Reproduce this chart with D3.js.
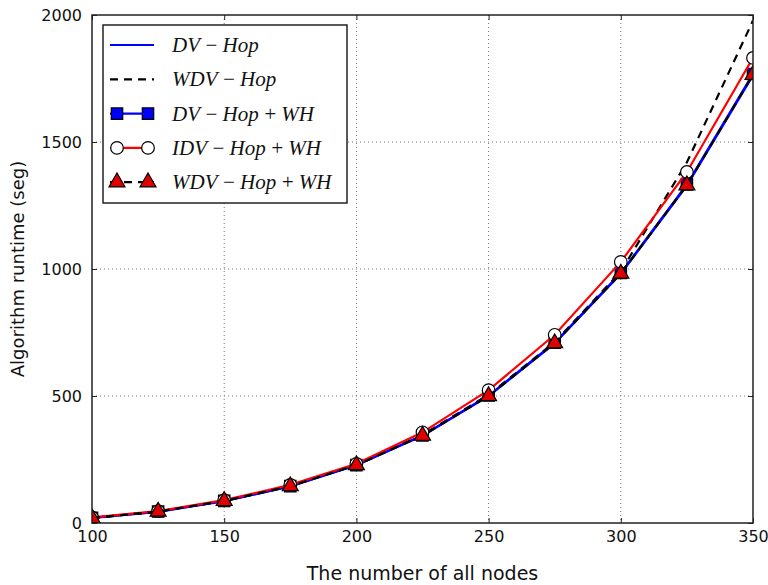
<!DOCTYPE html>
<html>
<head>
<meta charset="utf-8">
<script src="https://cdn.jsdelivr.net/npm/d3@7"></script>
<style>
  html, body { margin: 0; padding: 0; background: #fff; }
  svg { display: block; }
</style>
</head>
<body>
<svg id="chart" width="768" height="585"></svg>
<script>
// Number of nodes on the x axis
const nodes = [100, 125, 150, 175, 200, 225, 250, 275, 300, 325, 350];

// Runtime (seg) per algorithm
const dvHop      = [20, 44, 86, 144, 227, 343, 500, 707, 981, 1328, 1762];
const wdvHop     = [20, 45, 87, 146, 229, 347, 505, 712, 990, 1420, 1978];
const dvHopWH    = [20, 45, 87, 145, 228, 345, 502, 710, 984, 1333, 1768];
const idvHopWH   = [22, 47, 90, 150, 233, 357, 523, 741, 1028, 1382, 1831];
const wdvHopWH   = [20, 45, 87, 145, 228, 344, 500, 708, 982, 1330, 1765];

const xTicks = [100, 150, 200, 250, 300, 350];
const yTicks = [0, 500, 1000, 1500, 2000];

const seriesNames = ["DV\u2009\u2212\u2009Hop", "WDV\u2009\u2212\u2009Hop", "DV\u2009\u2212\u2009Hop\u2009+\u2009WH",
                     "IDV\u2009\u2212\u2009Hop\u2009+\u2009WH", "WDV\u2009\u2212\u2009Hop\u2009+\u2009WH"];

const series = [
  { name: seriesNames[0], values: dvHop,    stroke: "#0000ff", dash: null,  marker: null },
  { name: seriesNames[1], values: wdvHop,   stroke: "#000000", dash: "8,6", marker: null },
  { name: seriesNames[2], values: dvHopWH,  stroke: "#0000ff", dash: null,  marker: "square",   fill: "#0000ff" },
  { name: seriesNames[3], values: idvHopWH, stroke: "#ff0000", dash: null,  marker: "circle",   fill: "#ffffff" },
  { name: seriesNames[4], values: wdvHopWH, stroke: "#000000", dash: "8,6", marker: "triangle", fill: "#e00000" }
];

const svg = d3.select("#chart");
const pLeft = 92, pRight = 753, pTop = 15, pBottom = 523;

const x = d3.scaleLinear().domain([100, 350]).range([pLeft, pRight]);
const y = d3.scaleLinear().domain([0, 2000]).range([pBottom, pTop]);

// clip region for the data
svg.append("defs").append("clipPath").attr("id", "plotClip")
  .append("rect").attr("x", pLeft).attr("y", pTop)
  .attr("width", pRight - pLeft).attr("height", pBottom - pTop);

// dotted grid
const grid = svg.append("g");
grid.selectAll(".gx").data(xTicks.slice(1, -1)).enter().append("line")
  .attr("x1", d => x(d)).attr("x2", d => x(d))
  .attr("y1", pTop).attr("y2", pBottom)
  .attr("stroke", "#777").attr("stroke-width", 1).attr("stroke-dasharray", "1,3");
grid.selectAll(".gy").data(yTicks.slice(1, -1)).enter().append("line")
  .attr("x1", pLeft).attr("x2", pRight)
  .attr("y1", d => y(d)).attr("y2", d => y(d))
  .attr("stroke", "#777").attr("stroke-width", 1).attr("stroke-dasharray", "1,3");

// axes with inward ticks
const tickFont = "DejaVu Sans, sans-serif";
svg.append("g").attr("transform", `translate(0,${pBottom})`)
  .call(d3.axisBottom(x).tickValues(xTicks).tickSize(-5).tickPadding(8).tickFormat(d3.format("d")));
svg.append("g").attr("transform", `translate(${pLeft},0)`)
  .call(d3.axisLeft(y).tickValues(yTicks).tickSize(-5).tickPadding(10).tickFormat(d3.format("d")));
svg.append("g").attr("transform", `translate(0,${pTop})`)
  .call(d3.axisTop(x).tickValues(xTicks).tickSize(-5).tickFormat(""));
svg.append("g").attr("transform", `translate(${pRight},0)`)
  .call(d3.axisRight(y).tickValues(yTicks).tickSize(-5).tickFormat(""));

svg.selectAll(".domain").remove();
svg.selectAll(".tick line").attr("stroke", "#222").attr("stroke-width", 1);
svg.selectAll(".tick text").attr("fill", "#111")
  .style("font-family", tickFont).style("font-size", "16px");

// lines and markers
const line = d3.line().x((d, i) => x(nodes[i])).y(d => y(d));
const plot = svg.append("g").attr("clip-path", "url(#plotClip)");

const sym = {
  square: d3.symbol().type(d3.symbolSquare).size(130),
  circle: d3.symbol().type(d3.symbolCircle).size(125),
  triangle: d3.symbol().type(d3.symbolTriangle).size(110)
};

series.forEach(s => {
  plot.append("path").datum(s.values)
    .attr("d", line).attr("fill", "none")
    .attr("stroke", s.stroke).attr("stroke-width", 2.2)
    .attr("stroke-dasharray", s.dash);
  if (s.marker) {
    plot.selectAll(null).data(s.values).enter().append("path")
      .attr("d", sym[s.marker]())
      .attr("transform", (d, i) => `translate(${x(nodes[i])},${y(d)})`)
      .attr("fill", s.fill).attr("stroke", "#000").attr("stroke-width", 1.2);
  }
});

// frame
svg.append("rect").attr("x", pLeft).attr("y", pTop)
  .attr("width", pRight - pLeft).attr("height", pBottom - pTop)
  .attr("fill", "none").attr("stroke", "#222").attr("stroke-width", 1.5);

// axis titles
svg.append("text").attr("x", (pLeft + pRight) / 2).attr("y", 580)
  .attr("text-anchor", "middle").style("font-family", tickFont).style("font-size", "19px")
  .attr("fill", "#111").text("The number of all nodes");
svg.append("text")
  .attr("transform", `translate(24,${(pTop + pBottom) / 2}) rotate(-90)`)
  .attr("text-anchor", "middle").style("font-family", tickFont).style("font-size", "18px")
  .attr("fill", "#111").text("Algorithm runtime (seg)");

// legend
const lg = svg.append("g");
lg.append("rect").attr("x", 103).attr("y", 25).attr("width", 244).attr("height", 178)
  .attr("fill", "#fff").attr("stroke", "#222").attr("stroke-width", 1.5);
series.forEach((s, i) => {
  const cy = 45 + i * 34.3;
  lg.append("line").attr("x1", 110).attr("x2", 154).attr("y1", cy).attr("y2", cy)
    .attr("stroke", s.stroke).attr("stroke-width", 2.2).attr("stroke-dasharray", s.dash);
  if (s.marker) {
    [117, 148].forEach(mx => {
      lg.append("path").attr("d", sym[s.marker]())
        .attr("transform", `translate(${mx},${cy})`)
        .attr("fill", s.fill).attr("stroke", "#000").attr("stroke-width", 1.2);
    });
  }
  lg.append("text").attr("x", 172).attr("y", cy + 7)
    .style("font-family", "Liberation Serif, serif").style("font-style", "italic")
    .style("font-size", "21px").attr("fill", "#111").text(s.name);
});
</script>
</body>
</html>
